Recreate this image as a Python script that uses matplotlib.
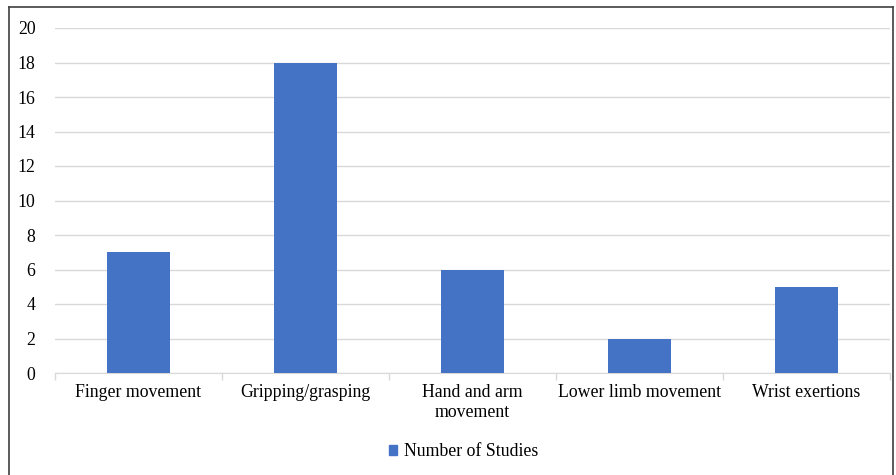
import numpy as np
import matplotlib.pyplot as plt
from matplotlib.lines import Line2D
from matplotlib.patches import Patch

categories = ['Finger movement', 'Gripping/grasping', 'Hand and arm\nmovement',
              'Lower limb movement', 'Wrist exertions']
studies = [7, 18, 6, 2, 5]

plt.rcParams['font.family'] = ['Liberation Serif', 'DejaVu Serif']

fig = plt.figure(figsize=(8.96, 4.75), dpi=100)
ax = fig.add_axes([55 / 896, 102 / 475, 835 / 896, 345 / 475])

x = np.arange(len(categories))
ax.bar(x, studies, width=0.38, color='#4472C4', zorder=3)

ax.set_xlim(-0.5, len(categories) - 0.5)
ax.set_ylim(0, 20)
ax.set_yticks(range(0, 21, 2))
ax.yaxis.grid(True, color='#D9D9D9', linewidth=1, zorder=0)
ax.tick_params(axis='y', length=0, labelsize=12.8, pad=14)

ax.set_xticks(x)
ax.set_xticklabels(categories, fontsize=12.8, linespacing=1.2)
ax.tick_params(axis='x', length=0, pad=8)
ax.set_xticks(np.arange(-0.5, len(categories)), minor=True)
ax.tick_params(axis='x', which='minor', length=5, color='#D9D9D9', width=1)

for s in ['top', 'right', 'left']:
    ax.spines[s].set_visible(False)
ax.spines['bottom'].set_color('#D9D9D9')

handle = Patch(color='#4472C4')
fig.legend([handle], ['Number of Studies'], loc='center', bbox_to_anchor=(464 / 896, 1 - 452 / 475),
           frameon=False, fontsize=12.8, handlelength=0.45, handleheight=0.45, handletextpad=0.4)

# outer frame
fig.add_artist(Line2D([9 / 896, 9 / 896], [0, 1 - 7 / 475], color='#404040', linewidth=1.2, transform=fig.transFigure))
fig.add_artist(Line2D([9 / 896, 893 / 896], [1 - 7 / 475, 1 - 7 / 475], color='#404040', linewidth=1.2, transform=fig.transFigure))
fig.add_artist(Line2D([893 / 896, 893 / 896], [0, 1 - 7 / 475], color='#404040', linewidth=1.2, transform=fig.transFigure))

fig.savefig('out.png', dpi=100)
